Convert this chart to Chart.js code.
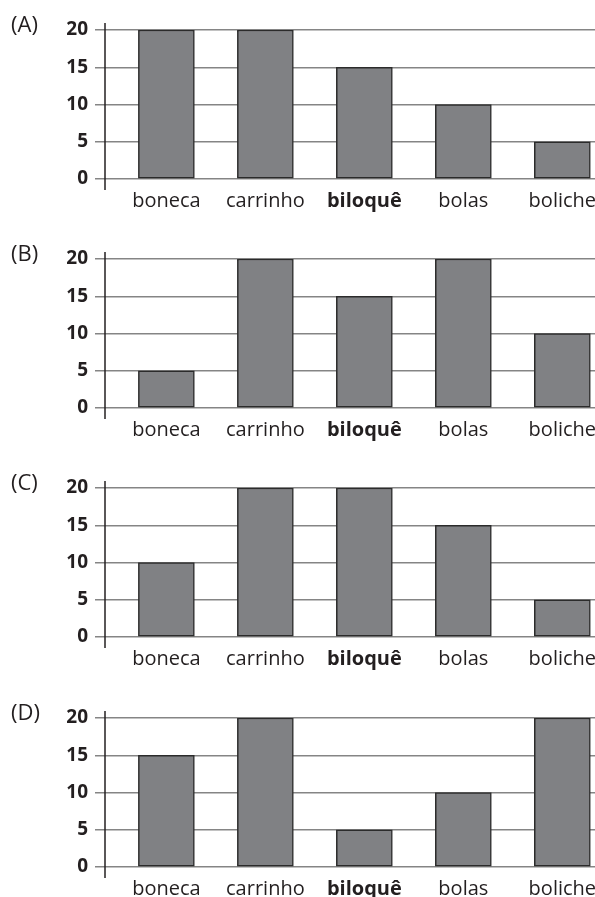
<!DOCTYPE html>
<html>
<head>
<meta charset="utf-8">
<script src="https://cdn.jsdelivr.net/npm/chart.js@4"></script>
<style>
  body { margin: 0; background: #fff; }
  #wrap { position: relative; width: 595px; height: 897px; overflow: hidden; }
  .painel { position: absolute; left: 0; width: 595px; height: 222px; }
  .letra { position: absolute; left: 11px; font: 22px "Open Sans"; color: #231f20; line-height: 1; }
</style>
</head>
<body>
<div id="wrap"></div>
<script>
const categorias = ["boneca", "carrinho", "biloquê", "bolas", "boliche"];
const destaque = "biloquê";
const serieA = [20, 20, 15, 10, 5];
const serieB = [5, 20, 15, 20, 10];
const serieC = [10, 20, 20, 15, 5];
const serieD = [15, 20, 5, 10, 20];
const ticksY = [0, 5, 10, 15, 20];
const letras = ["(A)", "(B)", "(C)", "(D)"];
const series = [serieA, serieB, serieC, serieD];

const topos = [0, 229, 458, 688];

const eixoY = {
  id: "eixoY",
  afterDraw(chart) {
    const { ctx, chartArea: a } = chart;
    ctx.save();
    ctx.strokeStyle = "#231f20";
    ctx.lineWidth = 1.5;
    ctx.beginPath();
    ctx.moveTo(a.left, a.top - 7);
    ctx.lineTo(a.left, a.bottom + 11);
    ctx.stroke();
    ctx.restore();
  },
};

function criarGrafico(valores, letra, topo) {
  const wrap = document.getElementById("wrap");
  const painel = document.createElement("div");
  painel.className = "painel";
  painel.style.top = topo + "px";
  const canvas = document.createElement("canvas");
  painel.appendChild(canvas);
  wrap.appendChild(painel);

  const rotulo = document.createElement("div");
  rotulo.className = "letra";
  rotulo.textContent = letra;
  rotulo.style.top = topo + 12 + "px";
  wrap.appendChild(rotulo);

  new Chart(canvas, {
    type: "bar",
    data: {
      datasets: [
        {
          data: valores.map((v, i) => ({ x: i, y: v })),
          backgroundColor: "#808184",
          borderColor: "#2b2b2b",
          borderWidth: 1.5,
          borderSkipped: false,
          barThickness: 56,
        },
      ],
    },
    options: {
      responsive: true,
      maintainAspectRatio: false,
      animation: false,
      layout: { padding: { top: 30, right: 0, left: 0, bottom: 0 } },
      plugins: {
        legend: { display: false },
        tooltip: { enabled: false },
      },
      scales: {
        x: {
          type: "linear",
          offset: false,
          min: -0.62,
          max: 4.33,
          afterBuildTicks: (scale) => {
            scale.ticks = categorias.map((_, i) => ({ value: i }));
          },
          afterFit: (scale) => {
            scale.height = 43;
            scale.paddingLeft = 0;
            scale.paddingRight = 0;
          },
          grid: { display: false, drawTicks: false },
          border: { display: false },
          ticks: {
            color: "#231f20",
            padding: 10,
            maxRotation: 0,
            autoSkip: false,
            callback: (v) => categorias[v],
            font: (c) => ({
              family: "Open Sans",
              size: 20,
              weight: c.tick && categorias[c.tick.value] === destaque ? "bold" : "normal",
            }),
          },
        },
        y: {
          min: 0,
          max: 20,
          afterBuildTicks: (scale) => {
            scale.ticks = ticksY.map((v) => ({ value: v }));
          },
          afterFit: (scale) => {
            scale.width = 105;
          },
          border: { display: false },
          grid: {
            color: "#858585",
            lineWidth: 1.5,
            tickLength: 10,
            tickColor: "#858585",
          },
          ticks: {
            color: "#231f20",
            padding: 7,
            font: { family: "Open Sans", size: 19, weight: "bold" },
          },
        },
      },
    },
    plugins: [eixoY],
  });
}

series.forEach((s, i) => criarGrafico(s, letras[i], topos[i]));
</script>
</body>
</html>
